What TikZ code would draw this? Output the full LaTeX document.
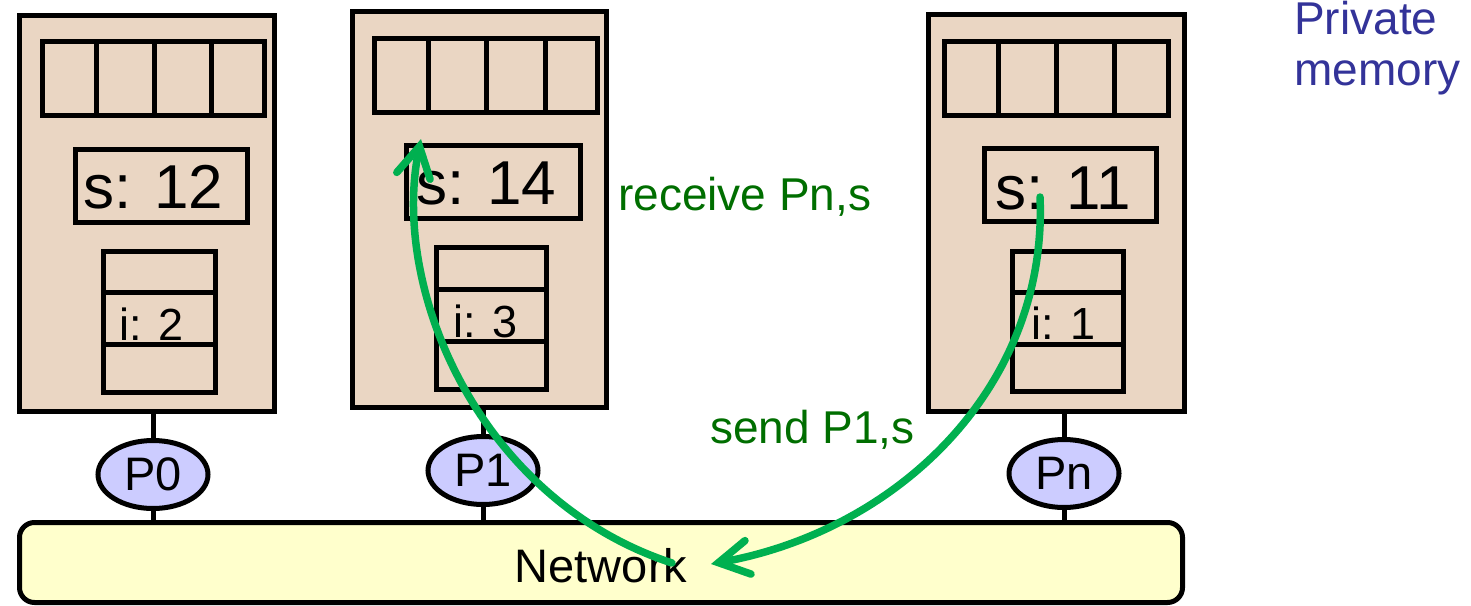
\documentclass[tikz,border=0pt]{standalone}
\usepackage{fontspec}
\setmainfont{Liberation Sans}
\usetikzlibrary{shapes.geometric,arrows.meta}
\definecolor{memfill}{RGB}{234,214,195}
\definecolor{netfill}{RGB}{255,255,204}
\definecolor{procfill}{RGB}{204,204,255}
\definecolor{arrgreen}{RGB}{0,176,80}
\definecolor{txtgreen}{RGB}{0,110,0}
\definecolor{privblue}{RGB}{51,51,153}
\tikzset{
  box/.style={draw=black, line width=5pt, rectangle, inner sep=0pt, outer sep=0pt, anchor=north west},
  membox/.style={box, fill=memfill},
  proc/.style={draw=black, line width=5pt, ellipse, fill=procfill, inner sep=0pt, outer sep=0pt,
     minimum width=110pt, minimum height=68pt, font=\fontsize{47}{47}\selectfont},
  stem/.style={line width=5pt},
  bar/.style={line width=5pt},
  svar/.style={inner sep=0pt, anchor=base west, font=\fontsize{62}{62}\selectfont},
  ivar/.style={inner sep=0pt, anchor=base west, font=\fontsize{45}{45}\selectfont},
  glabel/.style={inner sep=0pt, anchor=base west, text=txtgreen, font=\fontsize{46}{46}\selectfont},
  plabel/.style={inner sep=0pt, anchor=base west, text=privblue, font=\fontsize{46}{46}\selectfont},
  msg/.style={draw=arrgreen, line width=7.5pt, line cap=round,
     -{Straight Barb[length=30pt,width=34pt,line cap=round]}},
}
\begin{document}
\begin{tikzpicture}[x=1pt,y=-1pt]
\useasboundingbox (0,0) rectangle (1471,605);
% network
\node[box, fill=netfill, rounded corners=15pt, minimum width=1163pt, minimum height=80pt] (net) at (19.5,522.5) {};
\node[inner sep=0pt, anchor=base, font=\fontsize{47}{47}\selectfont] (nettext) at (601,582) {Network};

% ---- P0 ----
\node[membox, minimum width=255pt, minimum height=396.5pt] (m0) at (19.5,15) {};
\node[box, minimum width=222pt, minimum height=74pt] (r0) at (42.5,41.5) {};
\draw[bar] (96.5,41.5) -- (96.5,115.5) (154,41.5) -- (154,115.5) (211.5,41.5) -- (211.5,115.5);
\node[box, minimum width=172pt, minimum height=73pt] (s0) at (75.5,149.5) {};
\node[svar] (s0t) at (83,208) {s: 12};
\node[box, minimum width=112pt, minimum height=141pt] (k0) at (103.5,251.5) {};
\draw[bar] (103.5,292.5) -- (215.5,292.5) (103.5,344.5) -- (215.5,344.5);
\node[ivar] (i0) at (119,340) {i: 2};
\node[proc] (p0) at (153,474.5) {P0};

% ---- P1 ----
\node[membox, minimum width=254.5pt, minimum height=396pt] (m1) at (352,11.5) {};
\node[box, minimum width=223pt, minimum height=74pt] (r1) at (374.5,38.5) {};
\draw[bar] (428,38.5) -- (428,112.5) (486,38.5) -- (486,112.5) (545,38.5) -- (545,112.5);
\node[box, minimum width=174pt, minimum height=73.5pt] (s1) at (406,145) {};
\node[svar] (s1t) at (416,204) {s: 14};
\node[box, minimum width=110pt, minimum height=141.5pt] (k1) at (436.5,247.5) {};
\draw[bar] (436.5,289.5) -- (546.5,289.5) (436.5,341) -- (546.5,341);
\node[ivar] (i1) at (453,337) {i: 3};
\node[proc] (p1) at (483,470.5) {P1};

% ---- Pn ----
\node[membox, minimum width=256pt, minimum height=396.5pt] (mn) at (928,14.5) {};
\node[box, minimum width=223.5pt, minimum height=74pt] (rn) at (944.5,41.5) {};
\draw[bar] (998,41.5) -- (998,115.5) (1056,41.5) -- (1056,115.5) (1114,41.5) -- (1114,115.5);
\node[box, minimum width=172pt, minimum height=73pt] (sn) at (984,148) {};
\node[svar] (snt) at (995,209) {s: 11};
\node[box, minimum width=111pt, minimum height=140pt] (kn) at (1012.5,251.5) {};
\draw[bar] (1012.5,292.5) -- (1123.5,292.5) (1012.5,344.5) -- (1123.5,344.5);
\node[ivar] (in) at (1031,339) {i: 1};
\node[proc] (pn) at (1064,473.5) {Pn};

% stems
\foreach \p/\m in {p0/m0, p1/m1, pn/mn} {
  \draw[stem] (\p.north) -- (\p.north |- \m.south);
  \draw[stem] (\p.south) -- (\p.south |- net.north);
}

% labels
\node[glabel] (recv) at (618,210.5) {receive Pn,s};
\node[glabel] (send) at (710,443) {send P1,s};
\node[plabel] (priv1) at (1294,34) {Private};
\node[plabel] (priv2) at (1294,85) {memory};

% messages
\coordinate (recvstart) at (672,563);
\coordinate (recvend) at (421,139);
\coordinate (sendstart) at (1040,197);
\coordinate (sendend) at (711,564);
\draw[msg] (recvstart) .. controls (480,500) and (390,290) .. (recvend);
\draw[msg] (sendstart) .. controls (1048,385) and (900,530) .. (sendend);
\end{tikzpicture}
\end{document}
